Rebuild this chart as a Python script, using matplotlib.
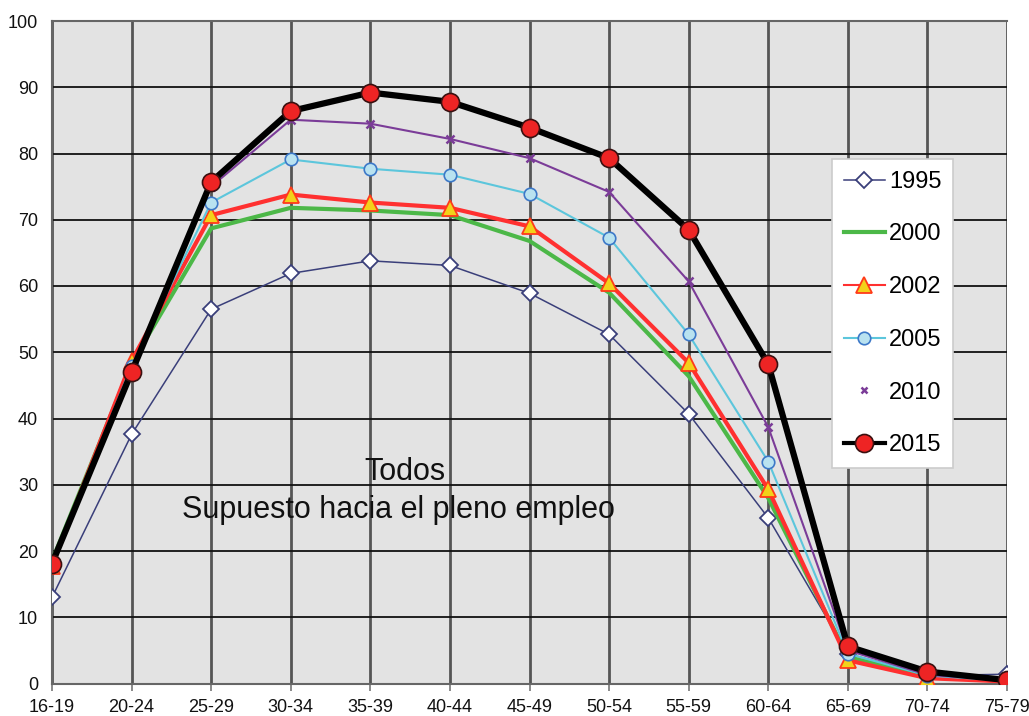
import matplotlib
matplotlib.use("Agg")
import matplotlib.pyplot as plt
from matplotlib.lines import Line2D

# age groups and participation rates (%)
categories = ['16-19', '20-24', '25-29', '30-34', '35-39', '40-44', '45-49',
              '50-54', '55-59', '60-64', '65-69', '70-74', '75-79']
y1995 = [13.0, 37.6, 56.5, 61.9, 63.8, 63.1, 58.9, 52.7, 40.7, 25.0, 4.5, 1.2, 1.4]
y2000 = [18.5, 48.3, 68.7, 71.8, 71.4, 70.7, 66.8, 59.0, 46.4, 28.0, 4.0, 1.0, 0.5]
y2002 = [17.8, 48.7, 70.7, 73.8, 72.6, 71.8, 69.0, 60.4, 48.4, 29.3, 3.5, 0.8, 0.3]
y2005 = [18.0, 48.0, 72.6, 79.1, 77.7, 76.8, 73.9, 67.3, 52.7, 33.5, 4.5, 1.2, 0.4]
y2010 = [18.2, 47.5, 75.0, 85.1, 84.5, 82.2, 79.3, 74.2, 60.7, 38.7, 5.0, 1.3, 0.5]
y2015 = [18.1, 47.0, 75.7, 86.4, 89.2, 87.8, 83.9, 79.3, 68.5, 48.2, 5.6, 1.8, 0.5]
years = ['1995', '2000', '2002', '2005', '2010', '2015']

plt.rcParams['font.family'] = ['Liberation Sans', 'DejaVu Sans']

W, H = 1029, 716
fig = plt.figure(figsize=(W / 100, H / 100), dpi=100, facecolor='white')
ax = fig.add_axes([52 / W, 1 - 683.5 / H, (1007 - 52) / W, (683.5 - 21) / H])
ax.set_facecolor('#e3e3e3')

x = list(range(len(categories)))

ax.plot(x, y1995, color='#3a3f7a', lw=1.1, marker='D', ms=8,
        mfc='white', mec='#3a3f7a', mew=1.3, zorder=3)
ax.plot(x, y2000, color='#4cb848', lw=3, zorder=4)
ax.plot(x, y2002, color='#ff3030', lw=3, marker='^', ms=11,
        mfc='#f2d21a', mec='#ff3a1a', mew=1.3, zorder=5)
ax.plot(x, y2005, color='#5cc6dc', lw=1.5, marker='o', ms=9,
        mfc='#b9e2f0', mec='#3c78c8', mew=1.2, zorder=6)
ax.plot(x, y2010, color='#7b3c98', lw=1.5, marker='x', ms=6,
        mec='#7b3c98', mew=1.8, zorder=7)
ax.plot(x, y2015, color='black', lw=4.5, marker='o', ms=13,
        mfc='#ee2424', mec='#3a1010', mew=1.2, zorder=8)

ax.set_xlim(0, len(categories) - 1)
ax.set_ylim(0, 100)
ax.set_xticks(x)
ax.set_xticklabels(categories)
ax.set_yticks(range(0, 101, 10))

ax.grid(axis='y', color='#111111', lw=1.3, zorder=1)
ax.grid(axis='x', color='#555555', lw=2, zorder=1)
ax.set_axisbelow(True)

for side in ['top', 'right', 'left', 'bottom']:
    ax.spines[side].set_color('#666666')
    ax.spines[side].set_linewidth(1.5)
ax.spines['right'].set_visible(False)

ax.tick_params(axis='x', length=5, width=1.2, color='#777777', pad=6,
               labelsize=13, labelcolor='#111111')
ax.tick_params(axis='y', length=0, pad=10, labelsize=13, labelcolor='#111111')

ax.text(0.37, 0.319, 'Todos', transform=ax.transAxes, ha='center', va='center',
        fontsize=22, color='#111111', zorder=9)
ax.text(0.363, 0.262, 'Supuesto hacia el pleno empleo', transform=ax.transAxes,
        ha='center', va='center', fontsize=22, color='#111111', zorder=9)

handles = [
    Line2D([], [], color='#3a3f7a', lw=1.1, marker='D', ms=8, mfc='white',
           mec='#3a3f7a', mew=1.3),
    Line2D([], [], color='#4cb848', lw=3),
    Line2D([], [], color='#ff3030', lw=1.5, marker='^', ms=11, mfc='#f2d21a',
           mec='#ff3a1a', mew=1.3),
    Line2D([], [], color='#5cc6dc', lw=1.5, marker='o', ms=9, mfc='#b9e2f0',
           mec='#3c78c8', mew=1.2),
    Line2D([], [], color='#7b3c98', ls='none', marker='x', ms=5,
           mec='#7b3c98', mew=1.8),
    Line2D([], [], color='black', lw=3, marker='o', ms=13, mfc='#ee2424',
           mec='#3a1010', mew=1.2),
]
leg = fig.legend(handles, years, loc='upper left',
                 bbox_to_anchor=(832 / W, 1 - 159 / H), fontsize=17,
                 frameon=True, fancybox=False, framealpha=1,
                 edgecolor='#cccccc', facecolor='white',
                 labelspacing=1.3, handlelength=1.75, handletextpad=0.17,
                 borderpad=0.5, borderaxespad=0)
leg.get_frame().set_linewidth(1.2)
leg.set_zorder(20)

fig.savefig('out.png', dpi=100, facecolor='white')
